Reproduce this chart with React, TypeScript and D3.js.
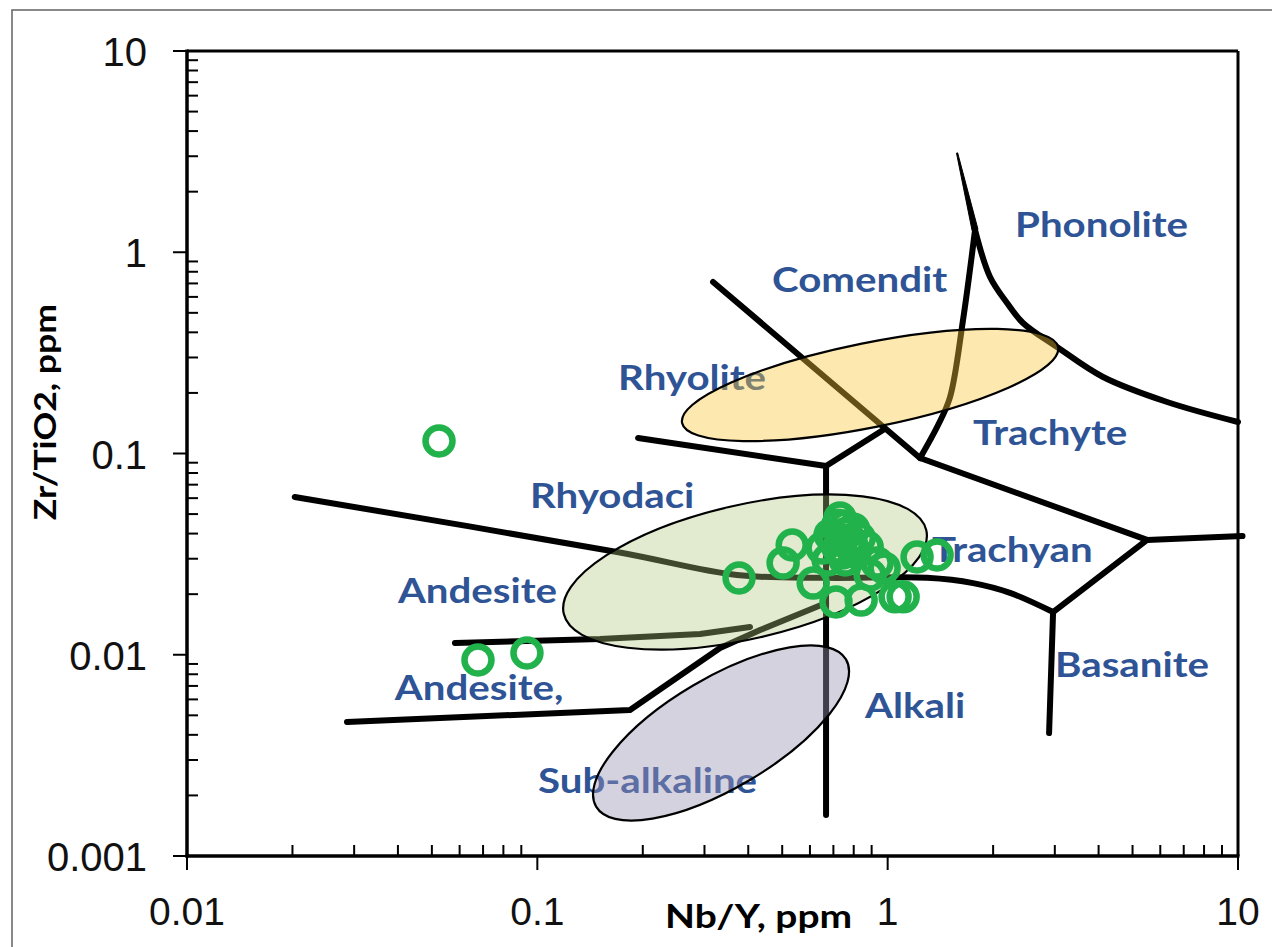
import React from "react";
import * as d3 from "d3";

// ---------- data ----------
const xTickValues = [0.01, 0.1, 1, 10];
const xTickLabels = ["0.01", "0.1", "1", "10"];
const yTickValues = [0.001, 0.01, 0.1, 1, 10];
const yTickLabels = ["0.001", "0.01", "0.1", "1", "10"];

const xTitle = "Nb/Y, ppm";
const yTitle = "Zr/TiO2, ppm";

// field boundaries [Nb/Y, Zr/TiO2]
const rhyodaciteAndesiteLine = [[0.0203, 0.0608], [0.1689, 0.0324], [0.3716, 0.0249], [0.667, 0.0241], [1.296, 0.0241], [1.753, 0.0227], [2.235, 0.0203], [2.966, 0.0163]];
const basaniteLine = [[2.966, 0.0163], [2.889, 0.00408]];
const trachyandesiteRightLine = [[2.966, 0.0163], [5.502, 0.0372], [10.3, 0.0389]];
const trachyteLine = [[1.237, 0.095], [5.502, 0.0372]];
const comenditeLine = [[0.3174, 0.7115], [1.237, 0.095]];
const phonoliteLeftLine = [[1.776, 1.29], [1.641, 0.4607], [1.507, 0.1909], [1.393, 0.1385], [1.237, 0.095]];
const phonoliteSpike = [[1.578, 3.113], [1.776, 1.29]];
const phonoliteRightLine = [[1.776, 1.29], [1.96, 0.7534], [2.192, 0.5597], [2.434, 0.4452], [3.045, 0.3382], [4.12, 0.24], [6.276, 0.1803], [10, 0.1434]];
const rhyoliteDaciteLine = [[0.1939, 0.1194], [0.667, 0.0867]];
const alkaliLine = [[0.667, 0.0867], [0.667, 0.0016]];
const rhyoliteTrachyteLine = [[0.667, 0.0867], [0.97, 0.1309]];
const andesiteBasaltLine = [[0.0582, 0.01144], [0.151, 0.01197], [0.2913, 0.01268], [0.4047, 0.01374]];
const subalkalineLine = [[0.02862, 0.004633], [0.1839, 0.005314], [0.3323, 0.0108], [0.4323, 0.01327], [0.667, 0.01807]];

const straightBoundaries = [
  basaniteLine, trachyandesiteRightLine, trachyteLine, comenditeLine,
  rhyoliteDaciteLine, alkaliLine, rhyoliteTrachyteLine, andesiteBasaltLine, subalkalineLine,
];
const curvedBoundaries = [rhyodaciteAndesiteLine, phonoliteLeftLine, phonoliteRightLine];

// fields: centre, end of major axis, minor/major ratio
const rhyoliteField = { center: [0.891, 0.219], tip: [3.066, 0.338], ratio: 0.22 };
const rhyodaciteField = { center: [0.3916, 0.02577], tip: [1.289, 0.04158], ratio: 0.36 };
const subalkalineField = { center: [0.3345, 0.004085], tip: [0.7603, 0.00948], ratio: 0.38 };

// region labels [text, Nb/Y, Zr/TiO2]
const regionLabels: [string, number, number][] = [
  ["Phonolite", 2.31, 1.191],
  ["Comendit", 0.4677, 0.6346],
  ["Rhyolite", 0.17, 0.2068],
  ["Trachyte", 1.753, 0.1102],
  ["Rhyodaci", 0.0953, 0.0536],
  ["Andesite", 0.04, 0.01807],
  ["Trachyan", 1.339, 0.0289],
  ["Andesite,", 0.0392, 0.005959],
  ["Alkali", 0.862, 0.004851],
  ["Basanite", 3.005, 0.007752],
  ["Sub-alkaline", 0.1005, 0.002056],
];

// samples
const sampleNbY = [0.0524, 0.0677, 0.0934, 0.3765, 0.503, 0.534, 0.613, 0.712, 0.731, 0.756, 0.685, 0.781, 0.65, 0.722, 0.807, 0.756, 0.676, 0.874, 0.933, 0.977, 0.84, 1.05, 1.107, 1.213, 1.384, 0.891, 0.76, 0.8, 0.70, 0.74, 0.79, 0.72, 0.83];
const sampleZrTi = [0.1154, 0.00942, 0.0102, 0.02406, 0.0286, 0.0351, 0.0227, 0.0183, 0.0478, 0.0436, 0.0394, 0.0372, 0.0339, 0.0339, 0.0324, 0.0296, 0.0296, 0.0343, 0.0286, 0.027, 0.0187, 0.0194, 0.0194, 0.0306, 0.0313, 0.0249, 0.04, 0.042, 0.037, 0.032, 0.035, 0.044, 0.038];

// ---------- chart ----------
const W = 1272, H = 947;
const X0 = 187, X1 = 1238, Y0 = 51, Y1 = 856;
const labelBlue = "#2F5496";
const green = "#22B24C";

export default function App() {
  const x = d3.scaleLog().domain([0.01, 10]).range([X0, X1]);
  const y = d3.scaleLog().domain([0.001, 10]).range([Y1, Y0]);
  const line = d3.line<number[]>().x((d) => x(d[0])).y((d) => y(d[1]));
  const curve = d3.line<number[]>().x((d) => x(d[0])).y((d) => y(d[1])).curve(d3.curveCatmullRom.alpha(0.5));

  const xMinor: number[] = [];
  [0.01, 0.1, 1].forEach((d) => { for (let m = 2; m <= 9; m++) xMinor.push(d * m); });
  const yMinor: number[] = [];
  [0.001, 0.01, 0.1, 1].forEach((d) => { for (let m = 2; m <= 9; m++) yMinor.push(d * m); });

  const ellipse = (f: { center: number[]; tip: number[]; ratio: number }, fill: string, op: number) => {
    const cx = x(f.center[0]), cy = y(f.center[1]);
    const tx = x(f.tip[0]), ty = y(f.tip[1]);
    const a = Math.hypot(tx - cx, ty - cy);
    const ang = (Math.atan2(ty - cy, tx - cx) * 180) / Math.PI;
    return (
      <g transform={`translate(${cx},${cy}) rotate(${ang})`}>
        <ellipse rx={a} ry={a * f.ratio} fill={fill} fillOpacity={op} stroke="none" />
        <ellipse rx={a} ry={a * f.ratio} fill="none" stroke="#000" strokeWidth={2.2} />
      </g>
    );
  };

  // tapered spike polygon
  const sp0 = phonoliteSpike[0], sp1 = phonoliteSpike[1];
  const s0x = x(sp0[0]), s0y = y(sp0[1]), s1x = x(sp1[0]), s1y = y(sp1[1]);
  const len = Math.hypot(s1x - s0x, s1y - s0y);
  const nx = -(s1y - s0y) / len, ny = (s1x - s0x) / len;
  const spikePath = `M${s0x - nx * 0.6},${s0y - ny * 0.6} L${s0x + nx * 0.6},${s0y + ny * 0.6} L${s1x + nx * 3},${s1y + ny * 3} L${s1x - nx * 3},${s1y - ny * 3} Z`;

  const labelFont = "Lato, 'Open Sans', sans-serif";

  return (
    <svg width={W} height={H} style={{ position: "absolute", left: 0, top: 0, display: "block", background: "#fff" }}>
      <rect x={12} y={10} width={1400} height={1100} fill="#fff" stroke="#6b6b6b" strokeWidth={1.6} />

      {/* region labels */}
      {regionLabels.map(([t, lx, ly]) => (
        <text key={t} transform={`translate(${x(lx)},${y(ly)}) scale(1.15,1)`} fontFamily={labelFont} fontWeight={700} fontSize={35} fill={labelBlue}>
          {t}
        </text>
      ))}

      {/* boundaries */}
      {straightBoundaries.map((b, i) => (
        <path key={"s" + i} d={line(b as number[][]) || ""} fill="none" stroke="#000" strokeWidth={6} strokeLinecap="round" strokeLinejoin="round" />
      ))}
      {curvedBoundaries.map((b, i) => (
        <path key={"c" + i} d={curve(b as number[][]) || ""} fill="none" stroke="#000" strokeWidth={6} strokeLinecap="round" strokeLinejoin="round" />
      ))}
      <path d={spikePath} fill="#000" stroke="#000" strokeWidth={1} strokeLinejoin="round" />

      {/* fields */}
      {ellipse(rhyoliteField, "#F9C937", 0.4)}
      {ellipse(rhyodaciteField, "#AFC67C", 0.36)}
      {ellipse(subalkalineField, "#9B93B6", 0.42)}

      {/* samples */}
      {sampleNbY.map((v, i) => (
        <circle key={i} cx={x(v)} cy={y(sampleZrTi[i])} r={13.5} fill="none" stroke={green} strokeWidth={6.5} />
      ))}

      {/* axes frame */}
      <line x1={X0} y1={Y0} x2={X1} y2={Y0} stroke="#000" strokeWidth={3} />
      <line x1={X1} y1={Y0} x2={X1} y2={Y1} stroke="#000" strokeWidth={3} />
      <line x1={X0} y1={Y0 - 1.5} x2={X0} y2={Y1 + 1.5} stroke="#000" strokeWidth={3.5} />
      <line x1={X0 - 1.5} y1={Y1} x2={X1 + 1.5} y2={Y1} stroke="#000" strokeWidth={3.5} />

      {xMinor.map((v, i) => (
        <line key={"xm" + i} x1={x(v)} x2={x(v)} y1={Y1} y2={Y1 - 11} stroke="#000" strokeWidth={2} />
      ))}
      {xTickValues.map((v, i) => (
        <g key={"xt" + i}>
          <line x1={x(v)} x2={x(v)} y1={Y1} y2={Y1 + 14} stroke="#000" strokeWidth={2} />
          <text x={x(v)} y={925} textAnchor="middle" fontFamily="'Liberation Sans', Arial, sans-serif" fontSize={39} fill="#111">
            {xTickLabels[i]}
          </text>
        </g>
      ))}
      {yMinor.map((v, i) => (
        <line key={"ym" + i} x1={X0} x2={X0 + 11} y1={y(v)} y2={y(v)} stroke="#000" strokeWidth={2} />
      ))}
      {yTickValues.map((v, i) => (
        <g key={"yt" + i}>
          <line x1={X0 - 14} x2={X0} y1={y(v)} y2={y(v)} stroke="#000" strokeWidth={2} />
          <text x={147} y={y(v) + 15} textAnchor="end" fontFamily="'Liberation Sans', Arial, sans-serif" fontSize={40} fill="#111">
            {yTickLabels[i]}
          </text>
        </g>
      ))}

      <text transform={`translate(665,928) scale(1.18,1)`} fontFamily={labelFont} fontWeight={700} fontSize={33} fill="#000">
        {xTitle}
      </text>
      <text transform={`translate(56,412) rotate(-90) scale(1.15,1)`} textAnchor="middle" fontFamily={labelFont} fontWeight={700} fontSize={31} fill="#000">
        {yTitle}
      </text>
    </svg>
  );
}
